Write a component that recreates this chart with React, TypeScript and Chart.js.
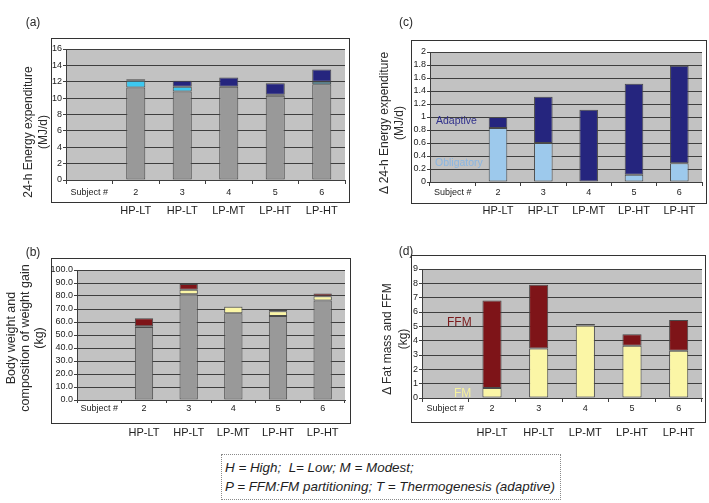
import React, { useEffect, useRef } from 'react';
import { Chart, registerables } from 'chart.js';

Chart.register(...registerables);

const FONT = '"Liberation Sans", Arial, Helvetica, sans-serif';

// Category axis: first slot only carries the "Subject #" caption
const subjects = ['Subject #', '2', '3', '4', '5', '6'];
const groups = ['', 'HP-LT', 'HP-LT', 'LP-MT', 'LP-HT', 'LP-HT'];

// 24-h energy expenditure (MJ/d): baseline plus obligatory and adaptive increments
const eeBaseline = [null, 11.3, 10.8, 11.4, 10.3, 11.7];
const eeObligatory = [null, 0.83, 0.6, 0, 0.11, 0.29];
const eeAdaptive = [null, 0.17, 0.71, 1.11, 1.4, 1.5];

// Body weight (kg) and the weight gained as fat mass / fat-free mass
const bodyWeight = [null, 56.1, 81.3, 66.7, 64.7, 76.5];
const gainFM = [null, 0.7, 3.45, 5.05, 3.65, 3.3];
const gainFFM = [null, 6.1, 4.45, 0.12, 0.8, 2.15];

// Y tick labels
const eeTicks = ['0', '2', '4', '6', '8', '10', '12', '14', '16'];
const deltaEeTicks = ['0', '0.2', '0.4', '0.6', '0.8', '1', '1.2', '1.4', '1.6', '1.8', '2'];
const weightTicks = ['0.0', '10.0', '20.0', '30.0', '40.0', '50.0', '60.0', '70.0', '80.0', '90.0', '100.0'];
const massTicks = ['0', '1', '2', '3', '4', '5', '6', '7', '8', '9'];

const C = {
  plotBg: '#c2c2c2',
  grid: '#3e3e3e',
  bar: '#999999',
  barEdge: '#4a4a4a',
  cyan: '#3cc8f0',
  navy: '#25257e',
  sky: '#9dc9ec',
  maroon: '#7e1418',
  cream: '#fbf6a6',
  text: '#222222',
};

type Rect = { l: number; r: number; t: number; b: number };
type Note = { text: string; color: string; size: number; dx: number; value: number };
type Spec = {
  x: number; y: number; w: number; h: number;
  plot: Rect; box: Rect;
  tick: { len: number; pad: number; h: number };
  group: { pad: number; h: number };
  yMin: number; yMax: number; yStep: number; yLabels: string[];
  datasets: any[];
  notes: Note[];
};

const barStyle = {
  borderColor: C.barEdge,
  borderWidth: 1,
  borderSkipped: false,
  categoryPercentage: 1,
  barPercentage: 0.41,
};

const framePlugin = {
  id: 'frame',
  beforeDraw(chart: any, _a: any, opts: any) {
    const { ctx, chartArea: a } = chart;
    const b: Rect = opts.box;
    ctx.save();
    ctx.fillStyle = '#ffffff';
    ctx.fillRect(0, 0, chart.width, chart.height);
    ctx.fillStyle = C.plotBg;
    ctx.fillRect(a.left, a.top, a.right - a.left, a.bottom - a.top);
    ctx.strokeStyle = '#333333';
    ctx.lineWidth = 1;
    ctx.strokeRect(b.l + 0.5, b.t + 0.5, b.r - b.l, b.b - b.t);
    ctx.restore();
  },
  afterDatasetsDraw(chart: any, _a: any, opts: any) {
    const { ctx, chartArea: a } = chart;
    const yScale = chart.scales.y;
    ctx.save();
    ctx.textBaseline = 'middle';
    ctx.textAlign = 'left';
    (opts.notes as Note[]).forEach((n) => {
      ctx.font = `${n.size}px ${FONT}`;
      ctx.fillStyle = n.color;
      ctx.fillText(n.text, a.left + n.dx, yScale.getPixelForValue(n.value));
    });
    ctx.restore();
  },
};

function buildConfig(s: Spec): any {
  return {
    type: 'bar',
    data: { labels: subjects, datasets: s.datasets.map((d) => ({ ...barStyle, ...d })) },
    plugins: [framePlugin],
    options: {
      responsive: false,
      animation: false,
      devicePixelRatio: 1,
      events: [],
      layout: {
        padding: {
          left: 0,
          top: s.plot.t,
          right: s.w - s.plot.r,
          bottom: s.h - s.plot.b - s.tick.h - s.group.h,
        },
      },
      plugins: {
        legend: { display: false },
        tooltip: { enabled: false },
        frame: { box: s.box, notes: s.notes },
      },
      scales: {
        x: {
          stacked: true,
          weight: 0,
          offset: true,
          grid: {
            offset: true,
            drawOnChartArea: false,
            drawTicks: true,
            tickLength: s.tick.len,
            color: C.grid,
          },
          border: { color: C.grid },
          ticks: {
            autoSkip: false,
            maxRotation: 0,
            padding: s.tick.pad,
            color: C.text,
            font: { family: FONT, size: 9 },
          },
          afterFit: (sc: any) => { sc.height = s.tick.h; },
        },
        x2: {
          type: 'category',
          labels: groups,
          position: 'bottom',
          weight: 1,
          offset: true,
          grid: { display: false, drawTicks: false, tickLength: 0 },
          border: { display: false },
          ticks: {
            autoSkip: false,
            maxRotation: 0,
            padding: s.group.pad,
            color: C.text,
            font: { family: FONT, size: 11 },
          },
          afterFit: (sc: any) => { sc.height = s.group.h; },
        },
        y: {
          stacked: true,
          min: s.yMin,
          max: s.yMax,
          grid: { color: C.grid, lineWidth: 1, drawTicks: true, tickLength: 3 },
          border: { color: C.grid },
          ticks: {
            stepSize: s.yStep,
            autoSkip: false,
            padding: 1,
            color: C.text,
            font: { family: FONT, size: 9 },
            callback: (_v: any, i: number) => s.yLabels[i],
          },
          afterFit: (sc: any) => { sc.width = s.plot.l; },
        },
      },
    },
  };
}

const panels: Spec[] = [
  {
    x: 0, y: 0, w: 354, h: 230,
    plot: { l: 66, r: 345, t: 49, b: 180 },
    box: { l: 51, r: 349, t: 38, b: 202 },
    tick: { len: 4, pad: 3, h: 22 },
    group: { pad: 2.5, h: 20 },
    yMin: 0, yMax: 16, yStep: 2, yLabels: eeTicks,
    datasets: [
      { label: 'Baseline', data: eeBaseline, backgroundColor: C.bar },
      { label: 'Obligatory', data: eeObligatory, backgroundColor: C.cyan },
      { label: 'Adaptive', data: eeAdaptive, backgroundColor: C.navy },
    ],
    notes: [],
  },
  {
    x: 354, y: 0, w: 355, h: 230,
    plot: { l: 76, r: 348, t: 52, b: 182 },
    box: { l: 57, r: 352, t: 40, b: 203 },
    tick: { len: 4, pad: 1, h: 21 },
    group: { pad: 1.5, h: 20 },
    yMin: 0, yMax: 2, yStep: 0.2, yLabels: deltaEeTicks,
    datasets: [
      { label: 'Obligatory', data: eeObligatory, backgroundColor: C.sky },
      { label: 'Adaptive', data: eeAdaptive, backgroundColor: C.navy },
    ],
    notes: [
      { text: 'Adaptive', color: '#30308c', size: 10.5, dx: 6, value: 0.93 },
      { text: 'Obligatory', color: '#8ab6e2', size: 10.5, dx: 5, value: 0.29 },
    ],
  },
  {
    x: 0, y: 240, w: 354, h: 210,
    plot: { l: 77, r: 345, t: 30, b: 160 },
    box: { l: 51, r: 350, t: 18, b: 183 },
    tick: { len: 3, pad: 0, h: 23 },
    group: { pad: 3.7, h: 22 },
    yMin: 0, yMax: 100, yStep: 10, yLabels: weightTicks,
    datasets: [
      { label: 'Body weight', data: bodyWeight, backgroundColor: C.bar },
      { label: 'FM', data: gainFM, backgroundColor: C.cream },
      { label: 'FFM', data: gainFFM, backgroundColor: C.maroon },
    ],
    notes: [],
  },
  {
    x: 354, y: 240, w: 355, h: 210,
    plot: { l: 68, r: 348, t: 29, b: 158 },
    box: { l: 57, r: 351, t: 15, b: 182 },
    tick: { len: 4, pad: 1, h: 24 },
    group: { pad: 4, h: 22 },
    yMin: 0, yMax: 9, yStep: 1, yLabels: massTicks,
    datasets: [
      { label: 'FM', data: gainFM, backgroundColor: C.cream },
      { label: 'FFM', data: gainFFM, backgroundColor: C.maroon },
    ],
    notes: [
      { text: 'FFM', color: '#7b1a1c', size: 12, dx: 25, value: 5.23 },
      { text: 'FM', color: '#f6f19c', size: 12, dx: 32, value: 0.28 },
    ],
  },
];

function Panel({ spec }: { spec: Spec }) {
  const ref = useRef<HTMLCanvasElement>(null);
  useEffect(() => {
    const chart = new Chart(ref.current as HTMLCanvasElement, buildConfig(spec));
    return () => chart.destroy();
  }, [spec]);
  return (
    <canvas
      ref={ref}
      width={spec.w}
      height={spec.h}
      style={{ position: 'absolute', left: spec.x, top: spec.y, width: spec.w, height: spec.h }}
    />
  );
}

function AxisTitle({ lines, cx, cy, size, lh }: { lines: string[]; cx: number; cy: number; size: number; lh: number }) {
  return (
    <div
      style={{
        position: 'absolute',
        left: cx,
        top: cy,
        transform: 'translate(-50%, -50%) rotate(-90deg)',
        whiteSpace: 'nowrap',
        textAlign: 'center',
        fontFamily: FONT,
        fontSize: size,
        lineHeight: `${lh}px`,
        color: '#2a2a2a',
      }}
    >
      {lines.map((t, i) => (
        <div key={i}>{t}</div>
      ))}
    </div>
  );
}

function PanelTag({ text, cx, cy }: { text: string; cx: number; cy: number }) {
  return (
    <div
      style={{
        position: 'absolute',
        left: cx,
        top: cy,
        transform: 'translate(-50%, -50%)',
        fontFamily: FONT,
        fontSize: 12,
        color: '#2a2a2a',
        whiteSpace: 'nowrap',
      }}
    >
      {text}
    </div>
  );
}

export default function App() {
  return (
    <div
      style={{
        position: 'absolute',
        left: 0,
        top: 0,
        width: 709,
        height: 503,
        background: '#ffffff',
        overflow: 'hidden',
      }}
    >
      {panels.map((p, i) => (
        <Panel key={i} spec={p} />
      ))}

      <PanelTag text="(a)" cx={33} cy={22} />
      <PanelTag text="(c)" cx={406} cy={22} />
      <PanelTag text="(b)" cx={33} cy={252} />
      <PanelTag text="(d)" cx={406} cy={251} />

      <AxisTitle lines={['24-h Energy expenditure', '(MJ/d)']} cx={35.5} cy={132} size={12} lh={15} />
      <AxisTitle lines={['Δ 24-h Energy expenditure', '(MJ/d)']} cx={392} cy={123} size={12} lh={15} />
      <AxisTitle lines={['Body weight and', 'composition of weight gain', '(kg)']} cx={25} cy={338} size={12.5} lh={14} />
      <AxisTitle lines={['Δ Fat mass and FFM', '(kg)']} cx={394.5} cy={339} size={12} lh={16} />

      <div
        style={{
          position: 'absolute',
          left: 221,
          top: 454,
          width: 338,
          height: 44,
          border: '1px dotted #8a8a8a',
          fontFamily: FONT,
          fontStyle: 'italic',
          fontSize: 13.4,
          color: '#1e1e1e',
          whiteSpace: 'nowrap',
        }}
      >
        <div style={{ position: 'absolute', left: 3, top: 5, lineHeight: '16px' }}>
          H = High;&nbsp; L= Low; M = Modest;
        </div>
        <div style={{ position: 'absolute', left: 3, top: 24, lineHeight: '16px' }}>
          P = FFM:FM partitioning; T = Thermogenesis (adaptive)
        </div>
      </div>
    </div>
  );
}
